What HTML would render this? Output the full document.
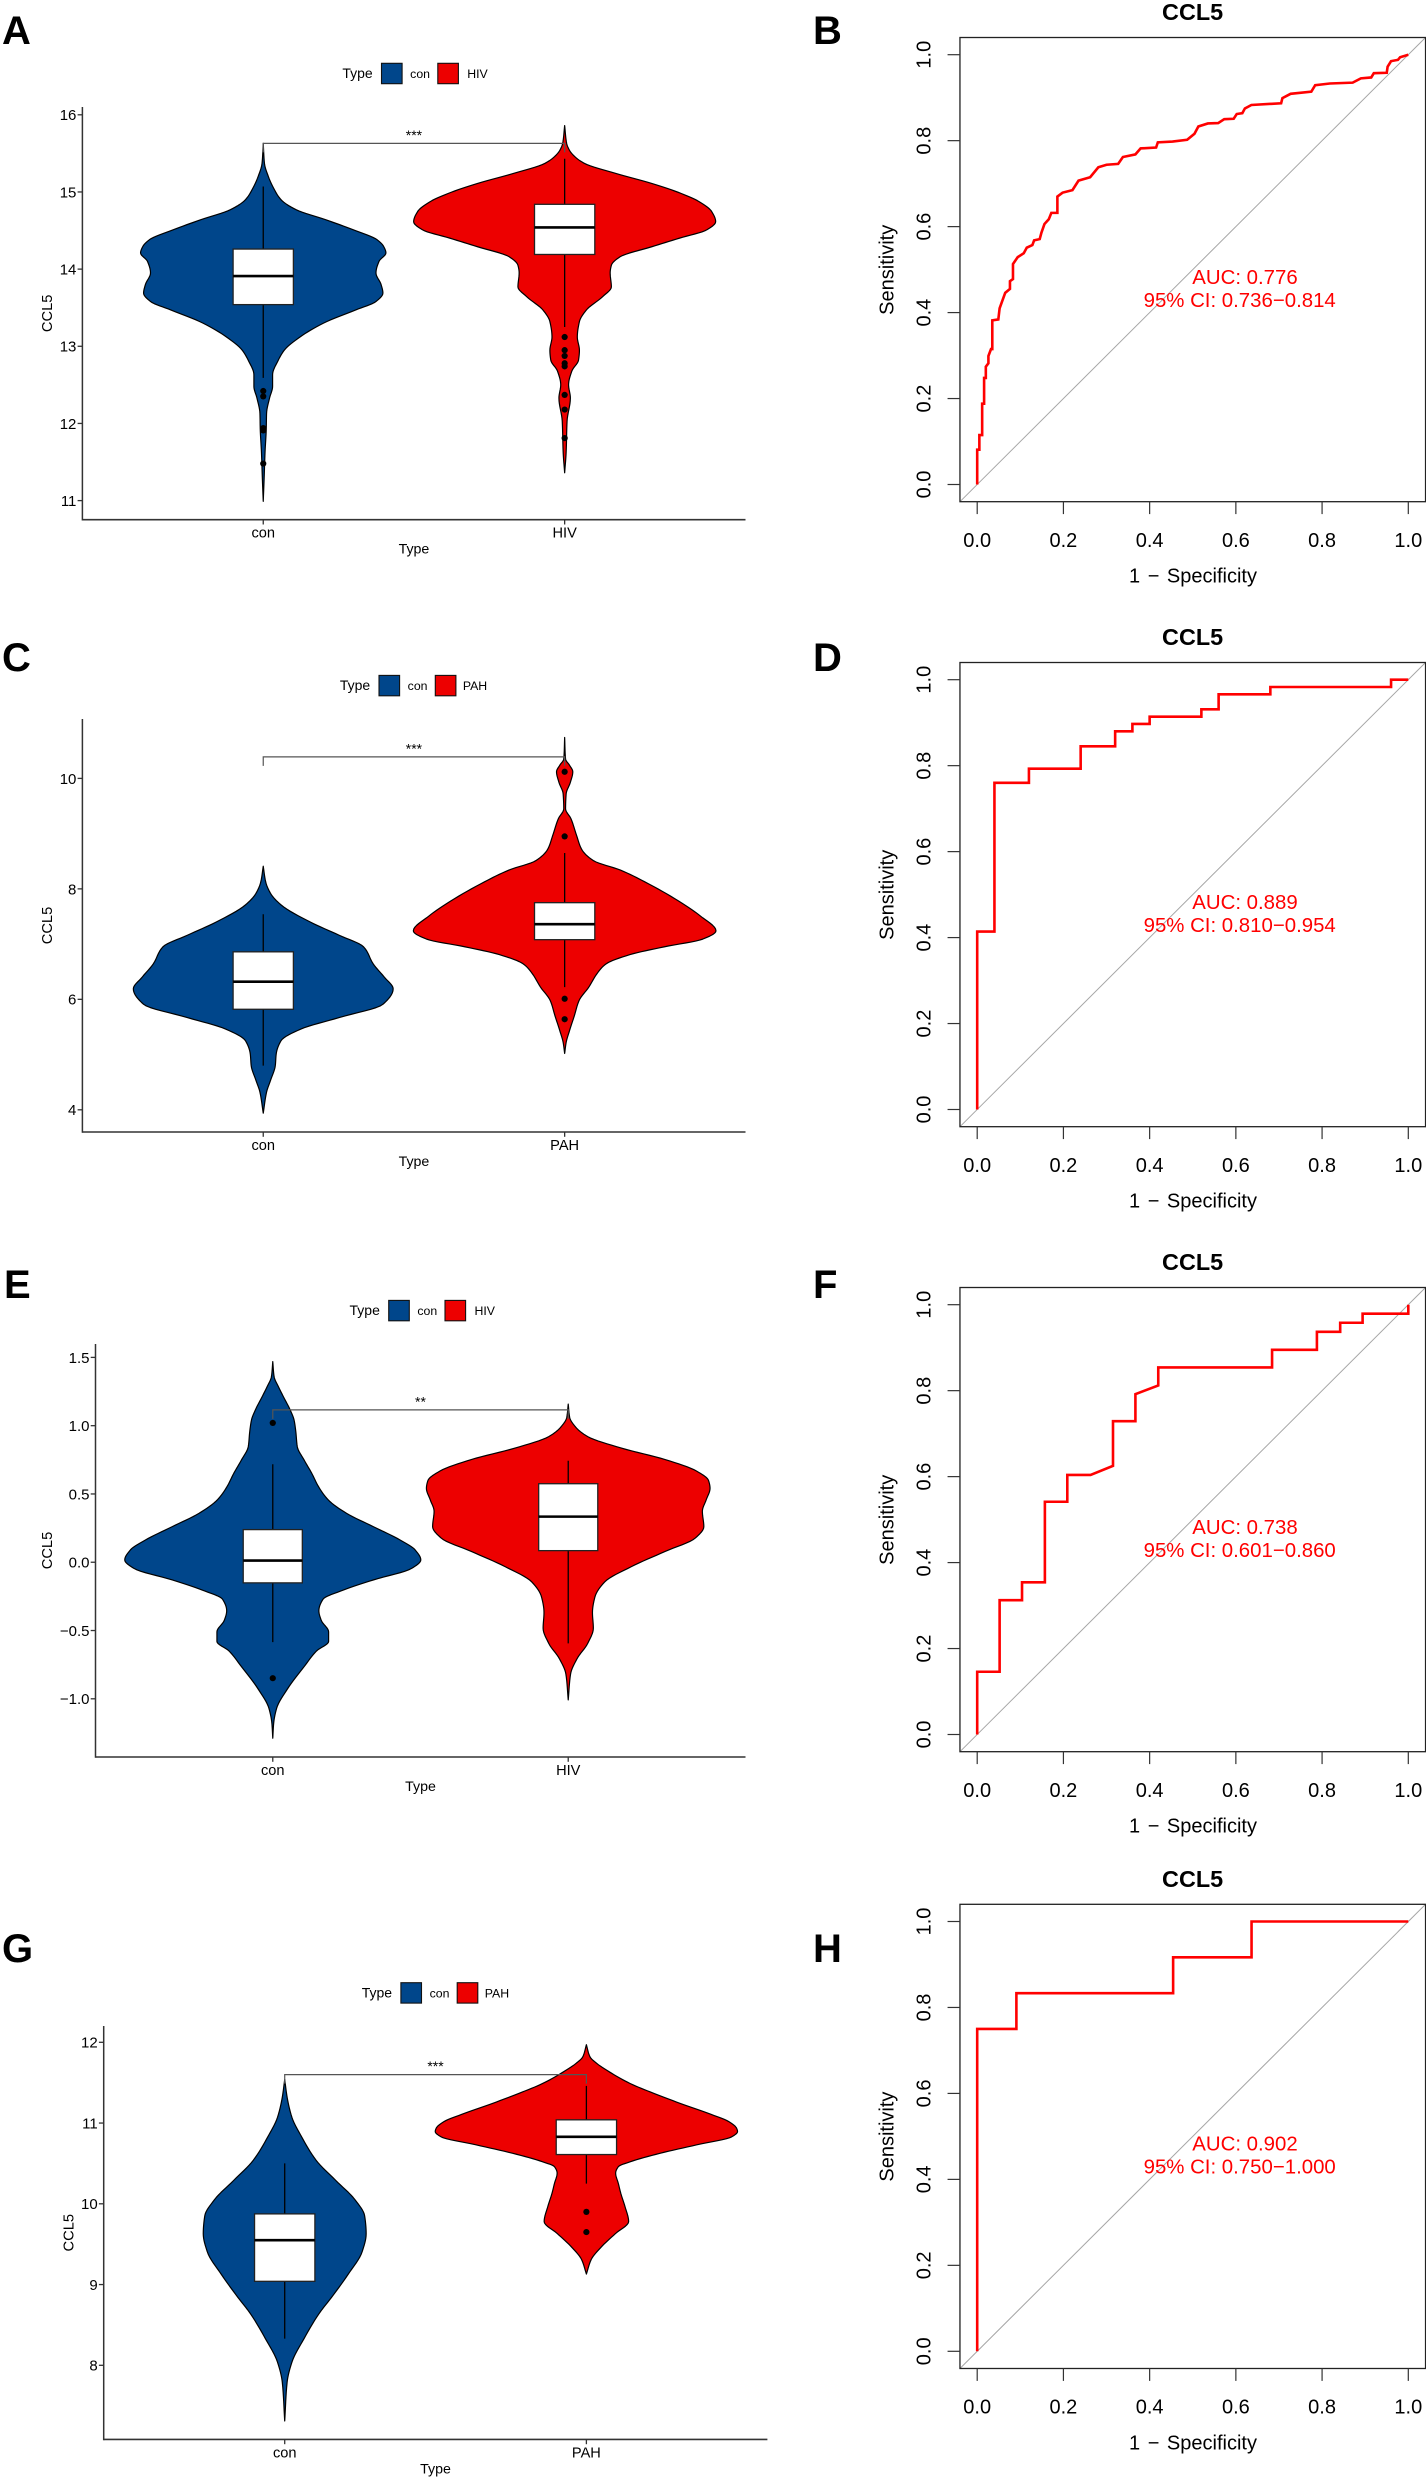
<!DOCTYPE html>
<html lang="en">
<head>
<meta charset="utf-8">
<title>CCL5 violin plots and ROC curves</title>
<style>
html,body{margin:0;padding:0;background:#fff;}
#figure{display:block;width:1426px;height:2480px;font-family:"Liberation Sans",Arial,sans-serif;}
</style>
</head>
<body>
<svg id="figure" xmlns="http://www.w3.org/2000/svg" width="1426" height="2480" viewBox="0 0 1426 2480"></svg>
<script>
/* ---------- Panel A ---------- */
const panelACategories = ['con', 'HIV'];
const panelATicks = [11, 12, 13, 14, 15, 16];
const panelATickLabels = ['11', '12', '13', '14', '15', '16'];
const panelAConLevels = [15.63,15.37,15.2,15.03,14.90,14.77,14.64,14.51,14.38,14.29,14.21,14.10,13.95,13.80,13.69,13.58,13.47,13.30,13.12,12.95,12.82,12.63,12.48,12.33,12.13,11.93,11.63,11.29,10.99];
const panelAConDensity = [0,.004,.017,.037,.059,.109,.207,.299,.378,.40,.407,.384,.374,.391,.397,.374,.306,.2,.122,.07,.05,.031,.031,.021,.011,.01,.006,.003,0];
const panelAConBox = [12.59,13.54,13.91,14.26,15.07];
const panelAConOutliers = [12.42,12.35,11.94,11.91,11.48];
const panelAHivLevels = [15.86,15.63,15.54,15.46,15.37,15.24,15.11,14.98,14.875,14.745,14.615,14.51,14.40,14.29,14.16,14.05,13.95,13.77,13.64,13.47,13.32,13.12,12.95,12.82,12.68,12.50,12.33,12.03,11.63,11.36];
const panelAHivDensity = [0,.0066,.016,.033,.066,.17,.289,.387,.446,.488,.501,.472,.38,.289,.184,.155,.151,.155,.125,.072,.049,.042,.049,.046,.024,.013,.019,.008,.005,0];
const panelAHivBox = [13.25,14.19,14.54,14.84,15.43];
const panelAHivOutliers = [13.12,12.95,12.875,12.78,12.74,12.37,12.18,11.81];

/* ---------- Panel B ---------- */
const panelBFpr = [0,0,.005,.005,.0115,.0115,.016,.016,.02,.02,.026,.026,.032,.035,.035,.049,.052,.057,.065,.076,.076,.083,.083,.094,.108,.115,.128,.132,.145,.149,.156,.166,.172,.186,.186,.198,.221,.235,.262,.281,.30,.327,.338,.367,.379,.415,.419,.453,.487,.504,.513,.535,.559,.573,.595,.602,.615,.621,.636,.705,.708,.727,.775,.784,.818,.871,.89,.914,.92,.95,.952,.96,.976,.981,1];
const panelBTpr = [0,.081,.081,.115,.115,.188,.188,.248,.248,.274,.282,.299,.315,.315,.382,.384,.41,.424,.446,.455,.473,.478,.513,.529,.538,.551,.557,.568,.571,.586,.606,.617,.632,.632,.67,.679,.685,.707,.715,.738,.744,.746,.762,.768,.782,.784,.796,.798,.802,.816,.833,.84,.841,.85,.851,.862,.864,.875,.883,.887,.899,.909,.914,.929,.933,.935,.945,.947,.957,.958,.972,.985,.988,.994,1];

/* ---------- Panel C ---------- */
const panelCCategories = ['con', 'PAH'];
const panelCTicks = [4, 6, 8, 10];
const panelCTickLabels = ['4', '6', '8', '10'];
const panelCConLevels = [8.41,8.13,7.92,7.71,7.40,7.16,6.95,6.64,6.40,6.19,5.91,5.67,5.46,5.25,5.01,4.80,4.53,4.32,3.94];
const panelCConDensity = [0,.008,.024,.059,.156,.252,.333,.365,.402,.431,.397,.252,.124,.059,.043,.04,.024,.011,0];
const panelCConBox = [4.80,5.82,6.32,6.86,7.54];
const panelCConOutliers = [];
const panelCPahLevels = [10.74,10.35,10.24,10.12,9.93,9.72,9.45,9.27,8.96,8.72,8.51,8.34,8.13,7.78,7.51,7.24,7.09,6.95,6.81,6.64,6.47,6.22,5.98,5.70,5.43,5.22,5.02];
const panelCPahDensity = [0,.003,.016,.027,.019,.005,.003,.021,.04,.056,.096,.185,.265,.378,.45,.502,.458,.33,.217,.137,.108,.08,.048,.032,.016,.005,0];
const panelCPahBox = [6.22,7.08,7.36,7.75,8.65];
const panelCPahOutliers = [10.12,8.95,6.01,5.64];

/* ---------- Panel D ---------- */
const panelDFpr = [0,0,.04,.04,.12,.12,.24,.24,.32,.32,.36,.36,.4,.4,.52,.52,.56,.56,.68,.68,.96,.96,1];
const panelDTpr = [0,.414,.414,.76,.76,.793,.793,.845,.845,.88,.88,.897,.897,.914,.914,.931,.931,.966,.966,.983,.983,1,1];

/* ---------- Panel E ---------- */
const panelECategories = ['con', 'HIV'];
const panelETicks = [-1, -0.5, 0, 0.5, 1, 1.5];
const panelETickLabels = ['\u22121.0', '\u22120.5', '0.0', '0.5', '1.0', '1.5'];
const panelEConLevels = [1.469,1.359,1.286,1.212,1.115,1.042,.956,.846,.749,.651,.553,.456,.358,.26,.163,.09,.017,-.045,-.13,-.203,-.271,-.355,-.425,-.51,-.58,-.65,-.762,-.93,-1.07,-1.18,-1.289];
const panelEConDensity = [0,.0045,.019,.036,.059,.072,.078,.083,.106,.132,.155,.188,.25,.341,.431,.482,.501,.47,.34,.24,.17,.156,.164,.189,.189,.148,.107,.049,.013,.003,0];
const panelEConBox = [-.585,-.151,.012,.239,.718];
const panelEConOutliers = [1.02,-.849];
const panelEHivLevels = [1.158,1.06,.99,.92,.836,.752,.668,.598,.541,.457,.373,.261,.177,.079,-.033,-.145,-.257,-.369,-.482,-.594,-.706,-.818,-1.008];
const panelEHivDensity = [0,.005,.025,.066,.18,.328,.434,.475,.48,.467,.454,.459,.43,.328,.213,.123,.09,.082,.085,.066,.03,.008,0];
const panelEHivBox = [-.594,.085,.334,.575,.743];
const panelEHivOutliers = [];

/* ---------- Panel F ---------- */
const panelFFpr = [0,0,.052,.052,.104,.104,.157,.157,.209,.209,.263,.315,.315,.367,.367,.42,.42,.684,.684,.788,.788,.842,.842,.894,.894,1,1];
const panelFTpr = [0,.146,.146,.3125,.3125,.354,.354,.5415,.5415,.604,.604,.625,.729,.729,.792,.812,.854,.854,.895,.895,.937,.937,.958,.958,.979,.979,1];

/* ---------- Panel G ---------- */
const panelGCategories = ['con', 'PAH'];
const panelGTicks = [8, 9, 10, 11, 12];
const panelGTickLabels = ['8', '9', '10', '11', '12'];
const panelGConLevels = [11.54,11.32,11.07,10.83,10.54,10.29,10.05,9.85,9.63,9.41,9.12,8.87,8.63,8.33,8.04,7.79,7.31];
const panelGConDensity = [0,.008,.024,.056,.104,.169,.233,.265,.27,.257,.209,.161,.112,.064,.024,.008,0];
const panelGConBox = [8.33,9.04,9.55,9.875,10.5];
const panelGConOutliers = [];
const panelGPahLevels = [11.97,11.82,11.74,11.616,11.49,11.37,11.245,11.12,11.02,10.935,10.895,10.83,10.73,10.625,10.52,10.46,10.38,10.25,10.13,9.965,9.78,9.63,9.46,9.31,9.13];
const panelGPahDensity = [0,.012,.034,.084,.145,.222,.31,.404,.471,.498,.501,.482,.366,.244,.145,.106,.097,.106,.114,.128,.14,.096,.048,.016,0];
const panelGPahBox = [10.25,10.61,10.83,11.04,11.46];
const panelGPahOutliers = [9.9,9.65];

/* ---------- Panel H ---------- */
const panelHFpr = [0,0,.0909,.0909,.4545,.4545,.6364,.6364,1];
const panelHTpr = [0,.75,.75,.8333,.8333,.9167,.9167,1,1];

/* ---------- Shared ROC ticks ---------- */
const rocTicks = [0, 0.2, 0.4, 0.6, 0.8, 1];
const rocTickLabels = ['0.0', '0.2', '0.4', '0.6', '0.8', '1.0'];

/* ---------- Drawing ---------- */
const NS = 'http://www.w3.org/2000/svg';
const root = document.getElementById('figure');
const BLUE = '#00468B';
const RED = '#ED0000';

function addShape(parent, tag, name, attrs) {
  const el = document.createElementNS(NS, tag);
  for (const k in attrs) el.setAttribute(k, attrs[k]);
  
  
  parent.appendChild(el);
  return el;
}
function addText(parent, str, name, attrs) {
  const el = addShape(parent, 'text', name, attrs);
  el.textContent = str;
  return el;
}
/* Monotone cubic interpolation of the density outline between read points. */
function densityCurve(levels, density) {
  const n = levels.length, h = [], d = [], m = [];
  for (let i = 0; i < n - 1; i++) {
    h.push(levels[i + 1] - levels[i]);
    d.push((density[i + 1] - density[i]) / h[i]);
  }
  m[0] = d[0];
  m[n - 1] = d[n - 2];
  for (let i = 1; i < n - 1; i++) {
    if (d[i - 1] * d[i] <= 0) { m[i] = 0; continue; }
    const w1 = 2 * h[i] + h[i - 1], w2 = h[i] + 2 * h[i - 1];
    m[i] = (w1 + w2) / (w1 / d[i - 1] + w2 / d[i]);
  }
  const out = [];
  for (let i = 0; i < n - 1; i++) {
    for (let k = 0; k < 8; k++) {
      const t = k / 8, t2 = t * t, t3 = t2 * t;
      const w = (2 * t3 - 3 * t2 + 1) * density[i] + (t3 - 2 * t2 + t) * h[i] * m[i] + (-2 * t3 + 3 * t2) * density[i + 1] + (t3 - t2) * h[i] * m[i + 1];
      out.push([levels[i] + t * h[i], Math.max(w, 0)]);
    }
  }
  out.push([levels[n - 1], density[n - 1]]);
  return out;
}

function drawViolinPanel(cfg) {
  const g = addShape(root, 'g', 'violin-panel-' + cfg.id, {});
  const unit = (cfg.right - cfg.left) / 2.2;
  const xScale = function (pos) { return cfg.left + (pos + 0.6) * unit; };
  const yScale = function (v) { return cfg.y1 + (v - cfg.v1) * (cfg.y2 - cfg.y1) / (cfg.v2 - cfg.v1); };

  addText(g, cfg.id, 'panel-label-' + cfg.id, {x: cfg.letterX, y: cfg.letterY, 'font-size': 40, 'font-weight': 'bold', fill: '#000'});

  // legend
  const lg = addShape(g, 'g', 'legend', {});
  addText(lg, 'Type', 'legend-title', {x: cfg.legendX - 24, y: cfg.legendY + 4.4, 'font-size': 14, 'text-anchor': 'middle', fill: '#000'});
  addShape(lg, 'rect', 'legend-swatch-' + cfg.cats[0], {x: cfg.legendX, y: cfg.legendY - 10.2, width: 20.6, height: 20.4, fill: BLUE, stroke: '#111', 'stroke-width': 1.1});
  addText(lg, cfg.cats[0], 'legend-label-' + cfg.cats[0], {x: cfg.legendX + 38.6, y: cfg.legendY + 4.6, 'font-size': 12.3, 'text-anchor': 'middle', fill: '#000'});
  addShape(lg, 'rect', 'legend-swatch-' + cfg.cats[1], {x: cfg.legendX + 56.3, y: cfg.legendY - 10.2, width: 20.6, height: 20.4, fill: RED, stroke: '#111', 'stroke-width': 1.1});
  addText(lg, cfg.cats[1], 'legend-label-' + cfg.cats[1], {x: cfg.legendX + 96, y: cfg.legendY + 4.6, 'font-size': 12.3, 'text-anchor': 'middle', fill: '#000'});

  // violins
  cfg.series.forEach(function (s, idx) {
    const cx = xScale(idx);
    const curve = densityCurve(s.levels, s.density);
    const right = curve.map(function (p) { return cx + p[1] * unit; });
    const rows = curve.map(function (p) { return yScale(p[0]); });
    let d = '';
    rows.forEach(function (y, i) { d += (i ? 'L' : 'M') + right[i].toFixed(2) + ' ' + y.toFixed(2); });
    for (let i = rows.length - 2; i > 0; i--) d += 'L' + (2 * cx - right[i]).toFixed(2) + ' ' + rows[i].toFixed(2);
    addShape(g, 'path', 'violin-' + cfg.cats[idx], {d: d + 'Z', fill: idx === 0 ? BLUE : RED, stroke: '#000', 'stroke-width': 1.2, 'stroke-linejoin': 'round'});
    addShape(g, 'line', 'whisker-' + cfg.cats[idx], {x1: cx, x2: cx, y1: yScale(s.box[0]), y2: yScale(s.box[4]), stroke: '#000', 'stroke-width': 1.3});
    s.outliers.forEach(function (v) {
      addShape(g, 'circle', 'outlier-' + cfg.cats[idx], {cx: cx, cy: yScale(v), r: 3.1, fill: '#000'});
    });
    const hw = 0.1 * unit;
    addShape(g, 'rect', 'box-' + cfg.cats[idx], {x: cx - hw, y: yScale(s.box[3]), width: 2 * hw, height: yScale(s.box[1]) - yScale(s.box[3]), fill: '#fff', stroke: '#222', 'stroke-width': 1.3});
    addShape(g, 'line', 'median-' + cfg.cats[idx], {x1: cx - hw, x2: cx + hw, y1: yScale(s.box[2]), y2: yScale(s.box[2]), stroke: '#000', 'stroke-width': 2.6});
  });

  // significance bracket
  const by = yScale(cfg.bracket);
  addShape(g, 'path', 'significance-bracket', {d: 'M' + xScale(0) + ' ' + (by + 9) + 'V' + by + 'H' + xScale(1) + 'V' + (by + 9), fill: 'none', stroke: '#555', 'stroke-width': 1.2});
  addText(g, cfg.stars, 'significance-stars', {x: (xScale(0) + xScale(1)) / 2, y: by - 3.5, 'font-size': 14, 'text-anchor': 'middle', fill: '#000'});

  // axes
  addShape(g, 'line', 'y-axis-line', {x1: cfg.left, x2: cfg.left, y1: cfg.top, y2: cfg.bottom + 0.8, stroke: '#333', 'stroke-width': 1.5});
  addShape(g, 'line', 'x-axis-line', {x1: cfg.left, x2: cfg.right, y1: cfg.bottom, y2: cfg.bottom, stroke: '#333', 'stroke-width': 1.6});
  cfg.ticks.forEach(function (v, i) {
    addShape(g, 'line', 'y-tick', {x1: cfg.left - 4.8, x2: cfg.left, y1: yScale(v), y2: yScale(v), stroke: '#333', 'stroke-width': 1.3});
    addText(g, cfg.tickLabels[i], 'y-tick-label', {x: cfg.left - 6, y: yScale(v) + 5.4, 'font-size': 15, 'text-anchor': 'end', fill: '#000'});
  });
  cfg.cats.forEach(function (c, i) {
    addShape(g, 'line', 'x-tick', {x1: xScale(i), x2: xScale(i), y1: cfg.bottom, y2: cfg.bottom + 4.8, stroke: '#333', 'stroke-width': 1.3});
    addText(g, c, 'x-tick-label', {x: xScale(i), y: cfg.bottom + 18, 'font-size': 14.6, 'text-anchor': 'middle', fill: '#000'});
  });
  addText(g, 'Type', 'x-axis-title', {x: (cfg.left + cfg.right) / 2, y: cfg.bottom + 34, 'font-size': 14.2, 'text-anchor': 'middle', fill: '#000'});
  const lx = cfg.ylabelX + 5.2, ly = (cfg.top + cfg.bottom) / 2;
  addText(g, 'CCL5', 'y-axis-title', {x: lx, y: ly, 'font-size': 14.7, 'text-anchor': 'middle', fill: '#000', transform: 'rotate(-90 ' + lx + ' ' + ly + ')'});
}

function drawRocPanel(cfg) {
  const dy = cfg.dy;
  const g = addShape(root, 'g', 'roc-panel-' + cfg.id, {});
  const xScale = function (v) { return 977.2 + v * 431.1; };
  const yScale = function (v) { return dy + 484.5 - v * 429.8; };
  const L = xScale(-0.04), R = xScale(1.04), T = yScale(1.04), B = yScale(-0.04);

  addText(g, cfg.id, 'panel-label-' + cfg.id, {x: 813, y: cfg.letterY, 'font-size': 40, 'font-weight': 'bold', fill: '#000'});
  addText(g, 'CCL5', 'roc-title', {x: 1192.6, y: dy + 20, 'font-size': 23.4, 'font-weight': 'bold', 'text-anchor': 'middle', fill: '#000'});

  addShape(g, 'line', 'chance-diagonal', {x1: L, y1: B, x2: R, y2: T, stroke: '#a6a6a6', 'stroke-width': 1});
  const d = cfg.fpr.map(function (v, i) { return (i ? 'L' : 'M') + xScale(v).toFixed(2) + ' ' + yScale(cfg.tpr[i]).toFixed(2); }).join('');
  addShape(g, 'path', 'roc-curve', {d: d, fill: 'none', stroke: '#ff0000', 'stroke-width': 2.6, 'stroke-linejoin': 'miter'});
  addShape(g, 'rect', 'plot-box', {x: L, y: T, width: R - L, height: B - T, fill: 'none', stroke: '#222', 'stroke-width': 1.3});

  rocTicks.forEach(function (v, i) {
    addShape(g, 'line', 'x-tick', {x1: xScale(v), x2: xScale(v), y1: B, y2: B + 12.4, stroke: '#333', 'stroke-width': 1.2});
    addText(g, rocTickLabels[i], 'x-tick-label', {x: xScale(v), y: dy + 546.8, 'font-size': 20, 'text-anchor': 'middle', fill: '#000'});
    addShape(g, 'line', 'y-tick', {x1: L - 12.4, x2: L, y1: yScale(v), y2: yScale(v), stroke: '#333', 'stroke-width': 1.2});
    const tx = 930.6, ty = yScale(v);
    addText(g, rocTickLabels[i], 'y-tick-label', {x: tx, y: ty, 'font-size': 20, 'text-anchor': 'middle', fill: '#000', transform: 'rotate(-90 ' + tx + ' ' + ty + ')'});
  });
  addText(g, '1 \u2212 Specificity', 'x-axis-title', {x: 1193, y: dy + 582.5, 'font-size': 20, 'word-spacing': 2, 'text-anchor': 'middle', fill: '#000'});
  const sx = 893.6, sy = dy + 269.8;
  addText(g, 'Sensitivity', 'y-axis-title', {x: sx, y: sy, 'font-size': 20, 'text-anchor': 'middle', fill: '#000', transform: 'rotate(-90 ' + sx + ' ' + sy + ')'});
  addText(g, cfg.auc, 'auc-label', {x: 1245, y: dy + 283.8, 'font-size': 20.4, 'text-anchor': 'middle', fill: '#ff0000'});
  addText(g, cfg.ci, 'ci-label', {x: 1239.7, y: dy + 306.8, 'font-size': 20.4, 'text-anchor': 'middle', fill: '#ff0000'});
}

drawViolinPanel({id: 'A', letterX: 2, letterY: 44, left: 82.4, right: 745.5, top: 107, bottom: 519.7, v1: 16, y1: 114.8, v2: 11, y2: 500.6, legendX: 381.5, legendY: 73.5, ylabelX: 47, bracket: 15.63, stars: '***', cats: panelACategories, ticks: panelATicks, tickLabels: panelATickLabels,
  series: [{levels: panelAConLevels, density: panelAConDensity, box: panelAConBox, outliers: panelAConOutliers}, {levels: panelAHivLevels, density: panelAHivDensity, box: panelAHivBox, outliers: panelAHivOutliers}]});
drawRocPanel({id: 'B', dy: 0, letterY: 44, fpr: panelBFpr, tpr: panelBTpr, auc: 'AUC: 0.776', ci: '95% CI: 0.736\u22120.814'});

drawViolinPanel({id: 'C', letterX: 2, letterY: 671, left: 82.4, right: 745.5, top: 719, bottom: 1132, v1: 10, y1: 778.4, v2: 4, y2: 1109.8, legendX: 379, legendY: 685.6, ylabelX: 47, bracket: 10.39, stars: '***', cats: panelCCategories, ticks: panelCTicks, tickLabels: panelCTickLabels,
  series: [{levels: panelCConLevels, density: panelCConDensity, box: panelCConBox, outliers: panelCConOutliers}, {levels: panelCPahLevels, density: panelCPahDensity, box: panelCPahBox, outliers: panelCPahOutliers}]});
drawRocPanel({id: 'D', dy: 625, letterY: 671, fpr: panelDFpr, tpr: panelDTpr, auc: 'AUC: 0.889', ci: '95% CI: 0.810\u22120.954'});

drawViolinPanel({id: 'E', letterX: 4, letterY: 1298, left: 95.5, right: 745.5, top: 1344, bottom: 1757, v1: 1.5, y1: 1357.4, v2: -1, y2: 1698.8, legendX: 388.7, legendY: 1310.6, ylabelX: 47, bracket: 1.116, stars: '**', cats: panelECategories, ticks: panelETicks, tickLabels: panelETickLabels,
  series: [{levels: panelEConLevels, density: panelEConDensity, box: panelEConBox, outliers: panelEConOutliers}, {levels: panelEHivLevels, density: panelEHivDensity, box: panelEHivBox, outliers: panelEHivOutliers}]});
drawRocPanel({id: 'F', dy: 1250, letterY: 1298, fpr: panelFFpr, tpr: panelFTpr, auc: 'AUC: 0.738', ci: '95% CI: 0.601\u22120.860'});

drawViolinPanel({id: 'G', letterX: 2, letterY: 1962, left: 103.7, right: 767.4, top: 2026, bottom: 2439.4, v1: 12, y1: 2042.3, v2: 8, y2: 2365.3, legendX: 400.9, legendY: 1992.9, ylabelX: 68.3, bracket: 11.6, stars: '***', cats: panelGCategories, ticks: panelGTicks, tickLabels: panelGTickLabels,
  series: [{levels: panelGConLevels, density: panelGConDensity, box: panelGConBox, outliers: panelGConOutliers}, {levels: panelGPahLevels, density: panelGPahDensity, box: panelGPahBox, outliers: panelGPahOutliers}]});
drawRocPanel({id: 'H', dy: 1866.8, letterY: 1962, fpr: panelHFpr, tpr: panelHTpr, auc: 'AUC: 0.902', ci: '95% CI: 0.750\u22121.000'});
</script>
</body>
</html>
